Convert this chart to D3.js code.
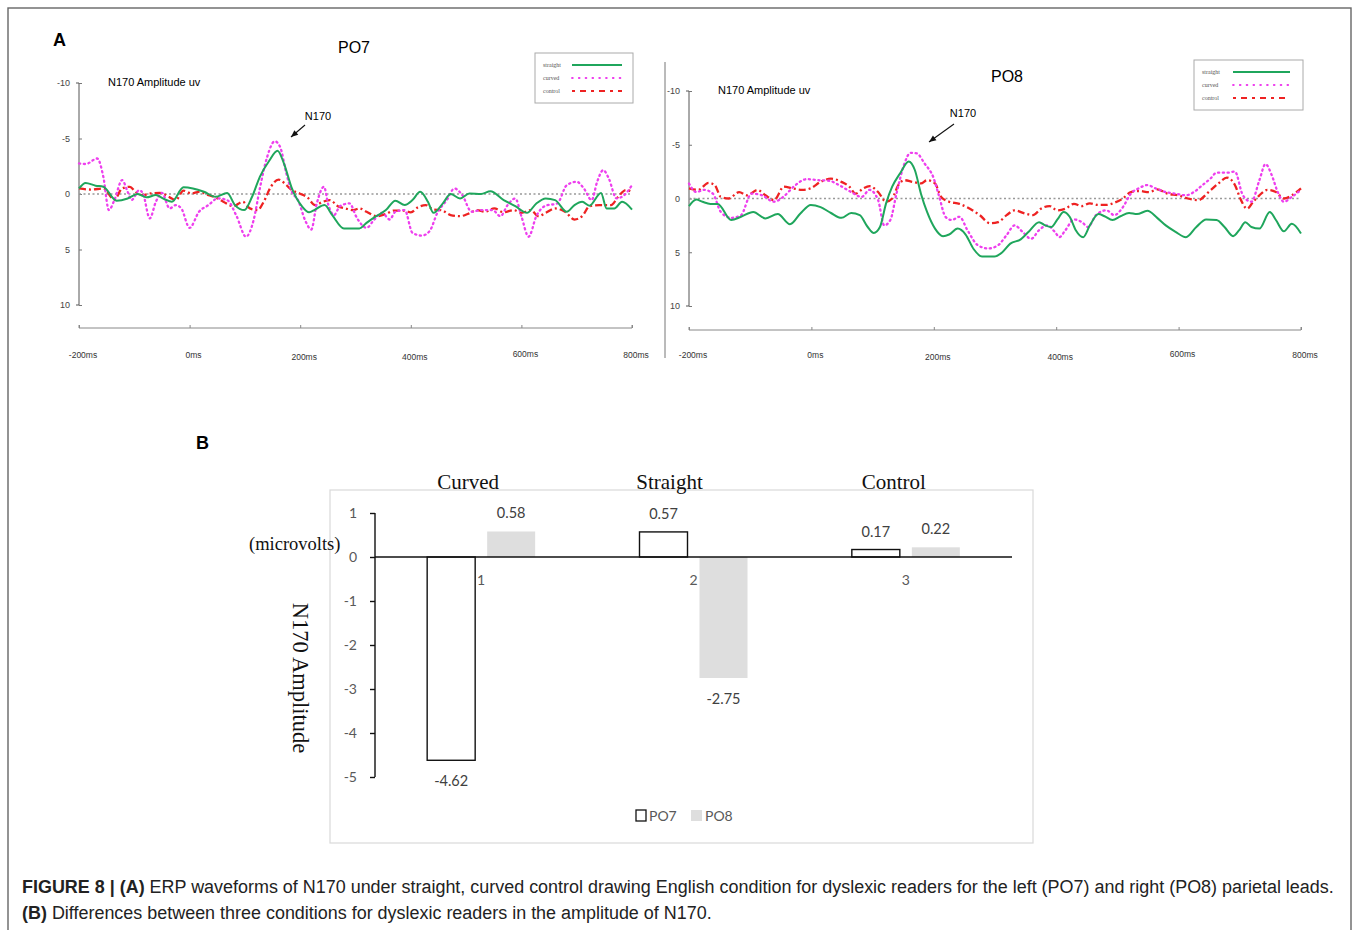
<!DOCTYPE html>
<html>
<head>
<meta charset="utf-8">
<script src="https://cdn.jsdelivr.net/npm/d3@7"></script>
<style>
  html, body { margin: 0; padding: 0; background: #fff; }
  svg { display: block; }
</style>
</head>
<body>
<svg id="fig" width="1358" height="930"></svg>
<script>
// ---------------- DATA ----------------
const timeTicks = [-200, 0, 200, 400, 600, 800];
const timeTickLabels = ["-200ms", "0ms", "200ms", "400ms", "600ms", "800ms"];
const ampTicks = [-10, -5, 0, 5, 10];
const seriesNames = ["straight", "curved", "control"];

// PO7 waveforms: [time ms, amplitude uV] (negative plotted upward)
const po7Straight = [[-200,-0.5],[-188,-1.0],[-170,-0.75],[-156,-0.65],[-132,0.6],[-112,0.4],[-94,0],[-78,0.3],[-61,0.1],[-46,0.45],[-32,0.7],[-11,-0.6],[6,-0.5],[26,-0.2],[47,0.25],[68,-0.1],[82,1.0],[99,1.45],[113,0.25],[127,-1.55],[144,-3.0],[159,-3.9],[171,-2.7],[185,-0.5],[203,1.1],[216,1.65],[227,1.4],[244,1.0],[258,1.9],[279,3.1],[307,3.1],[320,2.6],[334,2.1],[355,1.45],[372,0.6],[389,1.0],[403,0.55],[417,-0.2],[431,0.7],[441,1.7],[458,0.85],[472,0],[489,0.4],[506,-0.05],[527,0],[544,-0.25],[568,0.55],[589,1.1],[610,1.7],[627,0.85],[644,0.4],[661,0.55],[682,1.6],[696,1.0],[710,0.7],[723,1.05],[744,-0.1],[754,1.3],[768,1.3],[782,0.7],[800,1.4]];
const po7Curved = [[-200,-2.75],[-188,-2.7],[-167,-3.2],[-156,-1.55],[-146,1.45],[-136,0.55],[-122,-1.25],[-112,-0.2],[-105,0.55],[-91,-0.35],[-84,0],[-72,2.2],[-61,0.7],[-50,-0.1],[-36,1.3],[-25,1.0],[-15,1.3],[0,3.05],[17,1.6],[34,1.0],[51,0.4],[68,0.55],[85,2.0],[102,3.85],[116,2.3],[127,-0.5],[140,-3.3],[154,-4.75],[164,-4.2],[175,-1.85],[185,-0.2],[196,0.55],[210,2.5],[220,3.2],[230,0.85],[243,-0.65],[251,1.0],[261,1.9],[272,1.1],[289,0.85],[303,2.2],[320,3.05],[334,2.3],[348,1.7],[362,2.3],[372,1.6],[389,1.45],[403,3.5],[420,3.75],[434,3.35],[448,1.7],[465,0.55],[479,-0.5],[493,0.1],[510,1.6],[527,1.45],[548,1.45],[562,2.0],[575,1.0],[589,0.4],[600,2.0],[613,3.85],[627,2.0],[644,1.05],[665,0.85],[682,-0.8],[700,-1.1],[713,-0.5],[727,0.55],[737,-1.1],[748,-2.15],[758,-1.4],[772,0.4],[786,0.1],[800,-0.8]];
const po7Control = [[-200,-0.5],[-177,-0.4],[-156,-0.5],[-136,0.5],[-122,-0.5],[-108,-0.65],[-98,-0.2],[-85,0.1],[-71,-0.05],[-54,-0.1],[-36,0.3],[-25,0.55],[-11,-0.3],[3,-0.05],[17,-0.2],[34,0.1],[47,0.3],[61,0.7],[79,1.1],[96,0.7],[109,1.3],[123,1.45],[134,0.7],[147,-0.65],[161,-1.3],[175,-0.8],[185,-0.35],[199,-0.05],[213,0.3],[227,1.0],[241,0.7],[254,0.55],[268,1.1],[282,1.3],[296,1.45],[307,1.3],[320,1.6],[338,2.0],[355,1.8],[369,1.5],[386,1.5],[400,1.65],[413,1.2],[427,1.0],[441,1.4],[455,1.45],[472,1.9],[489,2.0],[503,1.8],[520,1.45],[534,1.6],[551,1.3],[568,1.65],[586,1.45],[600,1.7],[617,1.45],[631,2.0],[644,1.7],[661,1.3],[679,1.6],[696,2.3],[710,2.0],[723,1.1],[741,1.0],[762,1.0],[775,0.25],[789,-0.35],[800,-0.2]];

// PO8 waveforms
const po8Straight = [[-200,0.7],[-188,0.1],[-178,0.3],[-165,0.5],[-153,0.5],[-131,2.0],[-115,1.7],[-95,1.25],[-75,1.85],[-55,1.45],[-35,2.4],[-18,1.4],[-1,0.6],[15,0.8],[32,1.35],[49,1.8],[65,1.35],[79,1.55],[92,2.65],[102,3.2],[112,2.65],[122,0.45],[132,-1.1],[145,-2.35],[159,-3.45],[169,-2.65],[179,-0.45],[189,1.25],[202,2.8],[215,3.5],[225,3.35],[239,2.8],[252,3.35],[265,4.7],[279,5.4],[299,5.4],[312,5.0],[325,4.2],[342,3.8],[355,3.1],[372,2.2],[382,2.5],[392,2.65],[402,1.95],[412,1.25],[422,1.7],[432,2.95],[444,3.6],[455,2.5],[469,1.45],[479,1.65],[492,2.0],[505,1.65],[519,1.35],[532,1.45],[549,1.15],[565,1.8],[579,2.5],[595,3.1],[612,3.6],[629,2.65],[645,1.95],[662,2.0],[675,2.65],[689,3.5],[699,2.95],[709,2.2],[719,2.65],[732,2.8],[749,1.25],[759,2.0],[772,3.05],[785,2.35],[800,3.25]];
const po8Curved = [[-200,-1.4],[-188,-0.6],[-175,-0.8],[-161,-0.45],[-148,1.25],[-131,1.8],[-115,1.55],[-98,-0.45],[-81,-0.3],[-61,0.3],[-45,-0.2],[-28,-1.15],[-8,-1.8],[12,-1.7],[29,-1.65],[45,-1.25],[65,-0.6],[82,-0.15],[95,-0.8],[109,0.15],[119,2.5],[129,2.0],[139,-0.45],[152,-3.25],[162,-4.25],[172,-4.2],[185,-3.25],[199,-2.0],[209,-0.15],[219,1.7],[229,2.0],[242,1.7],[255,2.95],[272,4.35],[289,4.65],[305,4.35],[319,3.4],[332,2.5],[345,3.1],[359,3.75],[372,2.95],[385,2.5],[399,3.2],[405,3.6],[415,2.95],[429,1.95],[442,2.2],[452,2.65],[465,1.55],[482,1.1],[495,1.55],[509,0.8],[522,-0.45],[535,-0.95],[549,-1.25],[562,-0.95],[579,-0.6],[595,-0.45],[612,-0.3],[625,-0.6],[639,-1.25],[652,-1.85],[662,-2.4],[679,-2.4],[692,-2.5],[705,-0.3],[719,0.3],[732,-1.7],[742,-3.2],[752,-2.2],[762,-0.6],[772,0.3],[785,-0.15],[800,-0.8]];
const po8Control = [[-200,-0.95],[-185,-0.8],[-168,-1.45],[-158,-1.25],[-148,-0.15],[-135,0],[-118,-0.6],[-105,-0.3],[-88,-0.8],[-75,-0.3],[-61,0.15],[-45,-1.1],[-31,-0.95],[-15,-0.8],[-1,-0.95],[15,-1.55],[32,-1.85],[49,-1.55],[62,-1.1],[72,-0.45],[85,-0.95],[95,-1.15],[109,-0.6],[122,0.3],[132,0],[142,-1.25],[152,-1.7],[165,-1.55],[179,-1.4],[189,-1.7],[202,-1.4],[212,-0.15],[225,0.3],[242,0.5],[259,0.95],[275,1.55],[292,2.3],[305,2.2],[319,1.55],[332,1.1],[349,1.4],[362,1.55],[375,0.95],[389,0.7],[402,1.1],[415,0.95],[429,0.5],[442,0.7],[455,0.45],[469,0.6],[482,0.6],[495,0.4],[509,0],[522,-0.6],[535,-0.7],[552,-0.6],[565,-0.85],[582,-0.45],[599,-0.3],[615,0],[632,0.15],[649,-0.6],[665,-1.4],[679,-1.95],[692,-1.25],[702,0.15],[712,0.95],[722,0.3],[732,-0.3],[745,-0.8],[759,-0.6],[772,0],[785,-0.3],[800,-0.95]];

// Panel B: N170 amplitude differences (microvolts)
const barCategories = ["1", "2", "3"];
const barTitles = ["Curved", "Straight", "Control"];
const barSeries = ["PO7", "PO8"];
const po7Values = [-4.62, 0.57, 0.17];
const po8Values = [0.58, -2.75, 0.22];
const barTicks = [-5, -4, -3, -2, -1, 0, 1];

// ---------------- DRAW ----------------
const svg = d3.select("#fig");
const colors = { straight: "#1fa65c", curved: "#ee3fee", control: "#ee2222" };
const dashes = { straight: null, curved: "1.2,3.6", control: "7,3,2,3" };
const hy = v => String(v); // plain hyphen-minus like the reference

// outer frame
svg.append("rect").attr("x", 8).attr("y", 8).attr("width", 1343).attr("height", 940)
  .attr("fill", "none").attr("stroke", "#666").attr("stroke-width", 1.4);

// panel letters
svg.append("text").attr("x", 53).attr("y", 46).text("A")
  .attr("font-family", "Liberation Sans, Arial, sans-serif").attr("font-weight", "bold").attr("font-size", 18);
svg.append("text").attr("x", 196).attr("y", 449).text("B")
  .attr("font-family", "Liberation Sans, Arial, sans-serif").attr("font-weight", "bold").attr("font-size", 18);

// separator between PO7 and PO8
svg.append("line").attr("x1", 665).attr("x2", 665).attr("y1", 62).attr("y2", 358)
  .attr("stroke", "#777").attr("stroke-width", 1);

function erpPanel(cfg) {
  const g = svg.append("g");
  const x = d3.scaleLinear().domain([-200, 800]).range([cfg.x0, cfg.x1]);
  const y = d3.scaleLinear().domain([-10, 10]).range([cfg.yTop, cfg.yBot]);
  const font = "Liberation Sans, Arial, sans-serif";

  // y axis
  const ya = g.append("g").attr("transform", `translate(${cfg.x0},0)`)
    .call(d3.axisLeft(y).tickValues(ampTicks).tickSize(-3).tickPadding(9).tickFormat(hy));
  ya.select(".domain").attr("stroke", "#555").attr("d", `M-3,${cfg.yTop}H0V${cfg.yBot}H-3`);
  ya.selectAll(".tick line").attr("stroke", "#777");
  ya.selectAll(".tick text").attr("font-family", font).attr("font-size", 9).attr("fill", "#444");

  // x axis (separate, below)
  const xa = g.append("g").attr("transform", `translate(0,${cfg.xAxisY})`)
    .call(d3.axisBottom(x).tickValues(timeTicks).tickSize(-3).tickFormat(""));
  xa.select(".domain").attr("stroke", "#888").attr("d", `M${cfg.x0},-3V0H${cfg.x1}V-3`);
  xa.selectAll(".tick line").attr("stroke", "#888");
  g.selectAll(".tlab").data(timeTicks).join("text")
    .attr("x", d => x(d) + 4).attr("y", (d, i) => cfg.xLabY + [0, 0, 2, 2, -1, 0][i])
    .attr("text-anchor", "middle").attr("font-family", font).attr("font-size", 8.5).attr("fill", "#333")
    .text((d, i) => timeTickLabels[i]);

  // zero line
  g.append("line").attr("x1", cfg.x0).attr("x2", cfg.x1).attr("y1", y(0)).attr("y2", y(0))
    .attr("stroke", "#999").attr("stroke-width", 1.3).attr("stroke-dasharray", "2,2.5");

  // waveforms
  const line = d3.line().x(d => x(d[0])).y(d => y(d[1])).curve(d3.curveMonotoneX);
  ["control", "curved", "straight"].forEach(name => {
    g.append("path").datum(cfg.series[name]).attr("d", line)
      .attr("fill", "none").attr("stroke", colors[name])
      .attr("stroke-width", name === "straight" ? 2 : 2.3)
      .attr("stroke-linecap", name === "curved" ? "round" : "butt")
      .attr("stroke-dasharray", dashes[name]);
  });

  // titles
  g.append("text").attr("x", cfg.titleX).attr("y", cfg.titleY).attr("text-anchor", "middle")
    .attr("font-family", font).attr("font-size", 16).text(cfg.title);
  g.append("text").attr("x", cfg.x0 + 29).attr("y", cfg.yTop + 3).attr("font-family", font)
    .attr("font-size", 11).text("N170 Amplitude uv");

  // N170 annotation
  g.append("text").attr("x", cfg.annX).attr("y", cfg.annY).attr("text-anchor", "middle")
    .attr("font-family", font).attr("font-size", 11).text("N170");
  const [ax1, ay1, ax2, ay2] = cfg.arrow;
  g.append("line").attr("x1", ax1).attr("y1", ay1).attr("x2", ax2).attr("y2", ay2)
    .attr("stroke", "#111").attr("stroke-width", 1.1);
  const ang = Math.atan2(ay2 - ay1, ax2 - ax1);
  const hl = 7, hw = 3;
  const bx = ax2 - hl * Math.cos(ang), by = ay2 - hl * Math.sin(ang);
  g.append("path").attr("d",
    `M${ax2},${ay2}L${bx + hw * Math.sin(ang)},${by - hw * Math.cos(ang)}L${bx - hw * Math.sin(ang)},${by + hw * Math.cos(ang)}Z`)
    .attr("fill", "#111");

  // legend
  const L = cfg.legend;
  g.append("rect").attr("x", L.x).attr("y", L.y).attr("width", L.w).attr("height", L.h)
    .attr("fill", "#fff").attr("stroke", "#aaa").attr("stroke-width", 1);
  seriesNames.forEach((name, i) => {
    const yy = L.y + 12 + i * L.dy;
    g.append("text").attr("x", L.x + 8).attr("y", yy + 2).attr("font-family", "Liberation Serif, serif")
      .attr("font-size", 6).attr("fill", "#555").text(name);
    g.append("line").attr("x1", L.x + L.lx0).attr("x2", L.x + L.lx1).attr("y1", yy).attr("y2", yy)
      .attr("stroke", colors[name]).attr("stroke-width", 1.8)
      .attr("stroke-linecap", name === "curved" ? "round" : "butt")
      .attr("stroke-dasharray", name === "curved" ? "0.8,6" : (name === "control" ? "3,5,6,5" : null));
  });
}

erpPanel({
  x0: 79, x1: 632, yTop: 83, yBot: 305, xAxisY: 328, xLabY: 358,
  title: "PO7", titleX: 354, titleY: 53,
  annX: 318, annY: 120, arrow: [305, 125, 291, 137],
  legend: { x: 535, y: 53, w: 98, h: 50, dy: 13, lx0: 37, lx1: 87 },
  series: { straight: po7Straight, curved: po7Curved, control: po7Control }
});
erpPanel({
  x0: 689, x1: 1301, yTop: 91, yBot: 306, xAxisY: 330, xLabY: 358,
  title: "PO8", titleX: 1007, titleY: 82,
  annX: 963, annY: 117, arrow: [954, 124, 929, 142],
  legend: { x: 1194, y: 60, w: 109, h: 50, dy: 13, lx0: 39, lx1: 96 },
  series: { straight: po8Straight, curved: po8Curved, control: po8Control }
});

// ---------------- PANEL B ----------------
(function () {
  const g = svg.append("g");
  const serif = "Liberation Serif, 'Times New Roman', serif";
  const sans = "Lato, 'Open Sans', sans-serif";
  g.append("rect").attr("x", 330).attr("y", 490).attr("width", 703).attr("height", 353)
    .attr("fill", "none").attr("stroke", "#d9d9d9").attr("stroke-width", 1.2);

  const x0 = d3.scaleBand().domain(barCategories).range([375, 1012]).padding(0);
  const y = d3.scaleLinear().domain([-5, 1]).range([777, 513]);
  const x1 = d3.scaleBand().domain(barSeries).range([-54, 54]).paddingInner(0.2).paddingOuter(0);
  const cx = c => x0(c) + x0.bandwidth() / 2;

  const rows = barCategories.map((c, i) => ({ c, PO7: po7Values[i], PO8: po8Values[i] }));
  const bars = rows.flatMap(r => barSeries.map(s => ({ c: r.c, s, v: r[s] })));

  g.selectAll(".bar").data(bars).join("rect")
    .attr("x", d => cx(d.c) + x1(d.s)).attr("width", x1.bandwidth())
    .attr("y", d => y(Math.max(0, d.v))).attr("height", d => Math.abs(y(d.v) - y(0)))
    .attr("fill", d => d.s === "PO7" ? "#fff" : "#dedede")
    .attr("stroke", d => d.s === "PO7" ? "#111" : "none").attr("stroke-width", 1.4);

  // data labels
  g.selectAll(".dl").data(bars).join("text")
    .attr("x", d => cx(d.c) + x1(d.s) + x1.bandwidth() / 2)
    .attr("y", d => d.v >= 0 ? y(d.v) - 13 : y(d.v) + 26)
    .attr("text-anchor", "middle").attr("font-family", sans).attr("font-size", 14.5).attr("fill", "#404040")
    .text(d => d.v.toFixed(2));

  // y axis
  const ya = g.append("g").attr("transform", "translate(375,0)")
    .call(d3.axisLeft(y).tickValues(barTicks).tickSize(5).tickPadding(13).tickFormat(hy));
  ya.select(".domain").attr("stroke", "#111").attr("stroke-width", 1.4).attr("d", "M0,513V777");
  ya.selectAll(".tick line").attr("stroke", "#111").attr("stroke-width", 1.4);
  ya.selectAll(".tick text").attr("font-family", sans).attr("font-size", 14).attr("fill", "#595959");

  // zero axis
  g.append("line").attr("x1", 375).attr("x2", 1012).attr("y1", y(0)).attr("y2", y(0))
    .attr("stroke", "#111").attr("stroke-width", 1.4);

  // category numbers
  g.selectAll(".cn").data(barCategories).join("text")
    .attr("x", d => cx(d)).attr("y", y(0) + 28).attr("text-anchor", "middle")
    .attr("font-family", sans).attr("font-size", 14).attr("fill", "#595959").text(d => d);

  // category titles
  g.selectAll(".ct").data(barTitles).join("text")
    .attr("x", (d, i) => cx(barCategories[i]) - [13, 24, 12][i]).attr("y", 489).attr("text-anchor", "middle")
    .attr("font-family", serif).attr("font-size", 21).attr("fill", "#111").text(d => d);

  // axis titles
  g.append("text").attr("x", 249).attr("y", 550).attr("font-family", serif).attr("font-size", 18.5)
    .attr("fill", "#111").text("(microvolts)");
  g.append("text").attr("transform", "translate(293,678) rotate(90)").attr("text-anchor", "middle")
    .attr("font-family", serif).attr("font-size", 22.5).attr("fill", "#111").text("N170 Amplitude");

  // legend
  g.append("rect").attr("x", 636).attr("y", 810).attr("width", 10).attr("height", 11)
    .attr("fill", "#fff").attr("stroke", "#111").attr("stroke-width", 1.3);
  g.append("text").attr("x", 649).attr("y", 821).attr("font-family", sans).attr("font-size", 14)
    .attr("fill", "#595959").text("PO7");
  g.append("rect").attr("x", 691).attr("y", 810).attr("width", 11).attr("height", 11).attr("fill", "#dedede");
  g.append("text").attr("x", 705).attr("y", 821).attr("font-family", sans).attr("font-size", 14)
    .attr("fill", "#595959").text("PO8");
})();

// ---------------- CAPTION ----------------
(function () {
  const font = "Liberation Sans, Arial, sans-serif";
  const t1 = svg.append("text").attr("x", 22).attr("y", 893).attr("font-family", font).attr("font-size", 16).attr("fill", "#222");
  t1.append("tspan").attr("font-weight", "bold").text("FIGURE 8 | (A)");
  t1.append("tspan").text(" ERP waveforms of N170 under straight, curved control drawing English condition for dyslexic readers for the left (PO7) and right (PO8) parietal leads.");
  const t2 = svg.append("text").attr("x", 22).attr("y", 919).attr("font-family", font).attr("font-size", 16).attr("fill", "#222");
  t2.append("tspan").attr("font-weight", "bold").text("(B)");
  t2.append("tspan").text(" Differences between three conditions for dyslexic readers in the amplitude of N170.");
  const w = t1.node().getComputedTextLength();
  const fs = 16 * 1313 / w;
  t1.attr("font-size", fs);
  t2.attr("font-size", fs);
})();
</script>
</body>
</html>
